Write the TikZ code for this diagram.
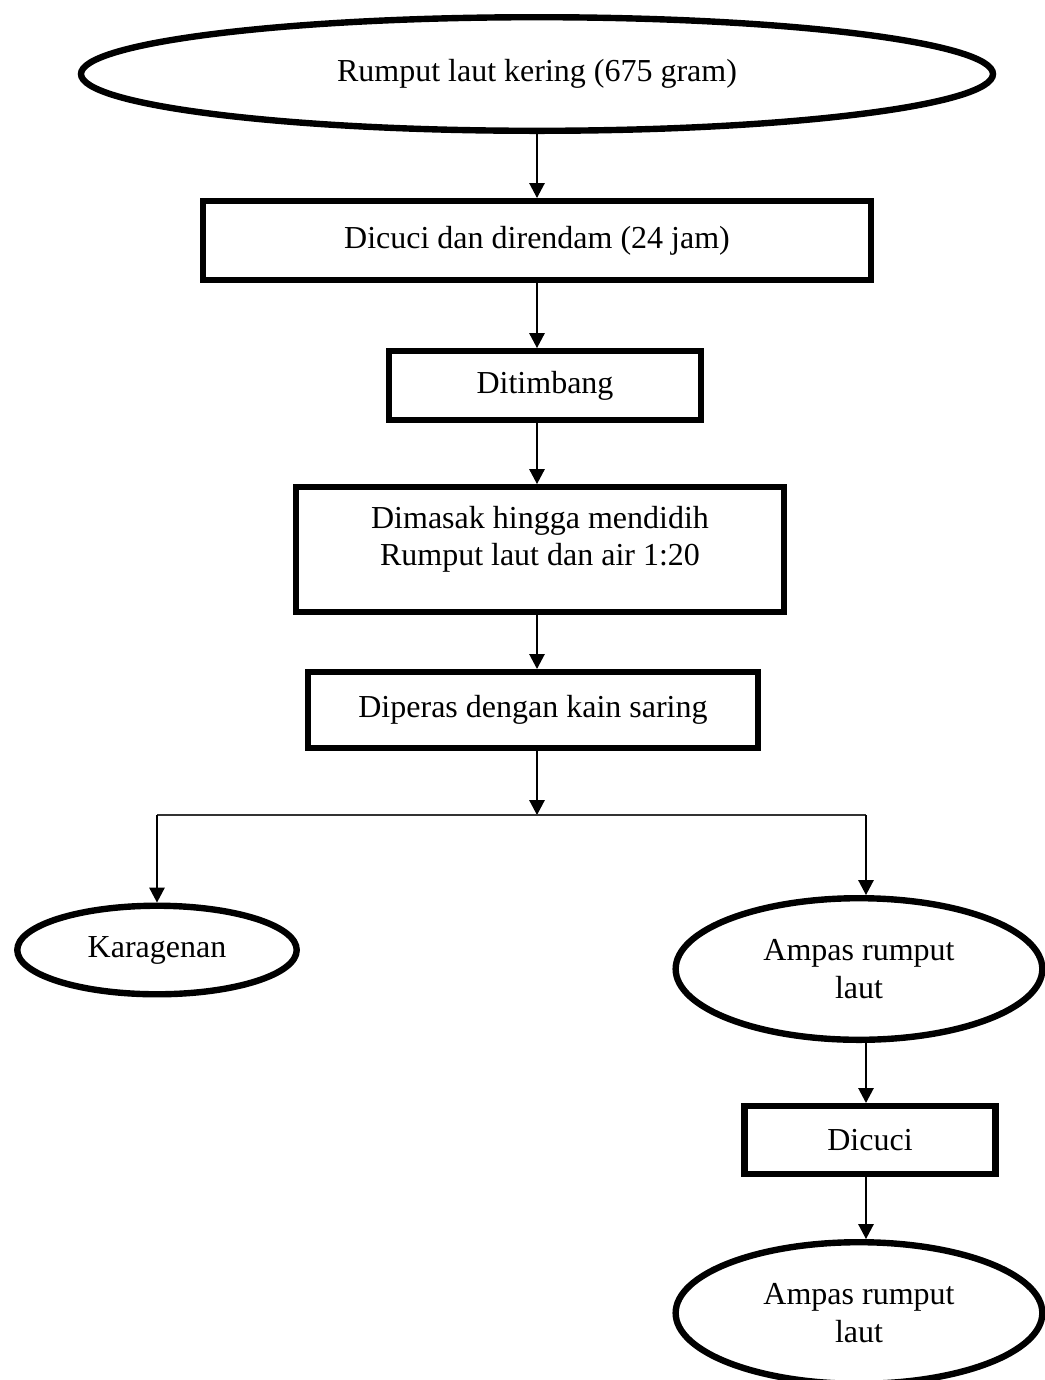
\documentclass[tikz,border=0pt]{standalone}
\usepackage{fontspec}
\setmainfont{Liberation Serif}
\usepackage{tikz}
\usetikzlibrary{shapes.geometric, arrows.meta, positioning}

\begin{document}
\begin{tikzpicture}[
	x=0.375pt, y=-0.375pt,
	procbox/.style={
		draw=black, fill=white, line width=2.4pt,
		rectangle, inner sep=0pt, align=center,
		font=\fontsize{12}{14.2}\selectfont
	},
	itembox/.style={
		draw=black, fill=white, line width=2.4pt,
		ellipse, inner sep=0pt, align=center,
		font=\fontsize{12}{14.2}\selectfont
	},
	flow/.style={
		draw=black, line width=0.5pt,
		-{Triangle[width=5.8pt,length=5.6pt]}
	},
	splitline/.style={draw=black!80, line width=0.4pt}
	]
	
	\useasboundingbox (0,0) rectangle (1044,1380);
	
	\def\xmain{537}
	\def\xright{866}
	
	% alur utama
	\node[itembox, minimum width=342pt, minimum height=42.6pt] (raw) at (\xmain,74)
	{Rumput laut kering (675 gram)};
	\node[procbox, minimum width=250.7pt, minimum height=29.5pt] (wash) at (\xmain,240.5)
	{Dicuci dan direndam (24 jam)};
	\node[procbox, minimum width=117.2pt, minimum height=25.7pt] (weigh) at (545,385.5)
	{Ditimbang};
	\node[procbox, minimum width=183.2pt, minimum height=46.7pt] (cook) at (540,549.5)
	{Dimasak hingga mendidih\\Rumput laut dan air 1:20\\[-4pt]\mbox{}};
	\node[procbox, minimum width=168.6pt, minimum height=28.4pt] (press) at (533,710)
	{Diperas dengan kain saring};
	\coordinate (split) at (\xmain,815);
	\coordinate (rjoin) at (\xright,815);
	
	% hasil
	\node[itembox, minimum width=104.8pt, minimum height=33.2pt] (kara) at (157,950)
	{Karagenan};
	\node[itembox, minimum width=137.5pt, minimum height=53.1pt] (ampas) at (859,969)
	{Ampas rumput\\laut};
	\node[procbox, minimum width=94pt, minimum height=25.4pt] (rinse) at (870,1140)
	{Dicuci};
	\node[itembox, minimum width=137.5pt, minimum height=53.1pt] (ampasb) at (859,1313)
	{Ampas rumput\\laut};
	
	\draw[flow] (raw.south -| split) -- (wash.north -| split);
	\draw[flow] (wash.south -| split) -- (weigh.north -| split);
	\draw[flow] (weigh.south -| split) -- (cook.north -| split);
	\draw[flow] (cook.south -| split) -- (press.north -| split);
	\draw[flow] (press.south -| split) -- (split);
	\draw[splitline] (kara.north |- split) -- (rjoin);
	\draw[flow] (kara.north |- split) -- (kara.north);
	\draw[flow] (rjoin) -- (rjoin |- ampas.north);
	\draw[flow] (ampas.south -| rjoin) -- (rinse.north -| rjoin);
	\draw[flow] (rinse.south -| rjoin) -- (ampasb.north -| rjoin);
	
\end{tikzpicture}
\end{document}
